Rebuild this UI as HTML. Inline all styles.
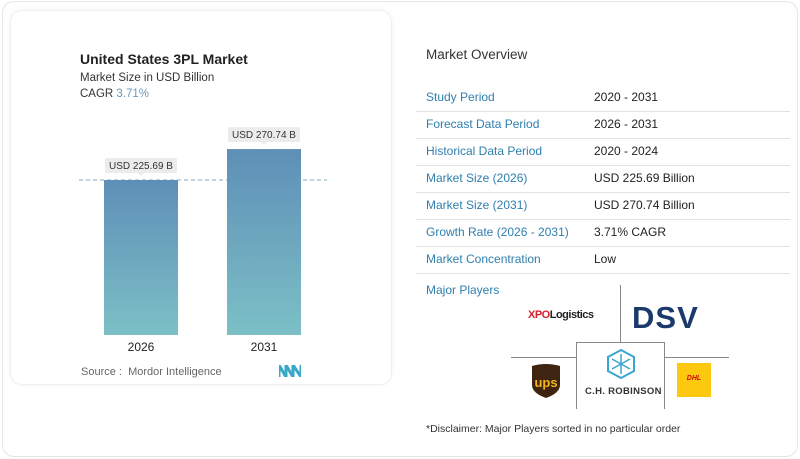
<!DOCTYPE html>
<html><head><meta charset="utf-8"><style>
*{margin:0;padding:0;box-sizing:border-box}
body{width:800px;height:459px;background:#fff;font-family:"Liberation Sans",sans-serif;position:relative;overflow:hidden}
.abs{position:absolute}
.outer{left:2px;top:1px;width:796px;height:456px;border:1px solid #e6e6e6;border-radius:12px}
.card{left:10px;top:10px;width:382px;height:375px;border:1px solid #f0f0f0;border-radius:12px;box-shadow:0 0 6px rgba(0,0,0,0.05)}
.lbl{left:426px;color:#2f7fae;font-size:12px}
.val{left:594px;color:#222;font-size:12px}
.sep{left:416px;width:374px;height:1px;background:#e2e2e2}
</style></head><body>
<div class="abs outer"></div>
<div class="abs card"></div>
<div class="abs" style="left:80px;top:51px;font-size:14px;font-weight:bold;color:#222">United States 3PL Market</div>
<div class="abs" style="left:80px;top:72px;font-size:11.5px;color:#333">Market Size in USD Billion</div>
<div class="abs" style="left:80px;top:88px;font-size:11.5px;color:#333">CAGR <span style="color:#6b9bbd">3.71%</span></div>
<svg class="abs" style="left:0;top:0" width="400" height="400" id="chart">
<defs><linearGradient id="g" x1="0" y1="0" x2="0" y2="1"><stop offset="0" stop-color="#5e8fb7"/><stop offset="1" stop-color="#7cc0c6"/></linearGradient></defs>
</svg>
<div class="abs" style="left:81px;top:366px;font-size:11px;color:#666">Source :&nbsp; Mordor Intelligence</div>
<svg class="abs" style="left:279px;top:365px" width="22" height="12"><path d="M0 12V0L7 12V0L14 12V0L22 12V0" fill="none" stroke="#3aa9c8" stroke-width="3"/></svg>

<div class="abs" style="left:426px;top:47px;font-size:13.5px;color:#333">Market Overview</div>
<div id="table"></div>
<div class="abs" style="left:426px;top:283px;font-size:12px;color:#2f7fae">Major Players</div>
<div class="abs" style="left:620px;top:285px;width:1px;height:57px;background:#888"></div>
<div class="abs" style="left:511px;top:357px;width:65px;height:1px;background:#888"></div>
<div class="abs" style="left:664px;top:357px;width:65px;height:1px;background:#888"></div>
<div class="abs" style="left:576px;top:342px;width:89px;height:67px;border:1px solid #888;border-bottom:none;background:#fff"></div>
<div class="abs" style="left:528px;top:309px;font-size:11px;font-weight:bold;letter-spacing:-0.5px"><span style="color:#d4202a">XPO</span><span style="color:#222">Logistics</span></div>
<div class="abs" style="left:632px;top:300px;font-size:31px;font-weight:900;color:#1b3a6b;letter-spacing:1px">DSV</div>
<svg class="abs" style="left:531px;top:363px" width="30" height="35"><path d="M1 3Q15 -1 29 3V22Q29 30 15 35Q1 30 1 22Z" fill="#3d2511"/><text x="15" y="24" font-size="13" font-weight="bold" fill="#f6b51a" text-anchor="middle" font-family="Liberation Sans">ups</text></svg>
<svg class="abs" style="left:605px;top:348px" width="32" height="32"><path d="M16 2L29 9V23L16 30L3 23V9Z" fill="none" stroke="#39a6d4" stroke-width="2"/><path d="M16 6V26M7 11L25 21M25 11L7 21" stroke="#39a6d4" stroke-width="1.5"/></svg>
<div class="abs" style="left:585px;top:386px;font-size:9.5px;font-weight:bold;color:#333;letter-spacing:0.3px">C.H. ROBINSON</div>
<div class="abs" style="left:677px;top:363px;width:34px;height:34px;background:#fcc90e"><div style="font-size:7px;color:#d40511;font-weight:bold;font-style:italic;text-align:center;margin-top:12px">DHL</div></div>
<div class="abs" style="left:426px;top:423px;font-size:10.5px;color:#333">*Disclaimer: Major Players sorted in no particular order</div>

<script>
const years=["2026","2031"];
const values=[225.69,270.74];
const valueLabels=["USD 225.69 B","USD 270.74 B"];
const svg=document.getElementById('chart');
const NS='http://www.w3.org/2000/svg';
const baseY=335, scale=155/225.69;
const yS=v=>baseY-v*scale;
const xS=i=>104+i*123;
const bw=74;
function mk(t,a){const e=document.createElementNS(NS,t);for(const k in a)e.setAttribute(k,a[k]);svg.appendChild(e);return e;}
const dl=mk('line',{x1:79,x2:327,y1:yS(values[0]),y2:yS(values[0]),stroke:'#8aa8b8','stroke-dasharray':'4 3','stroke-width':1});


years.forEach((yr,i)=>{
  const x=xS(i),y=yS(values[i]);
  const r=mk('rect',{x:x,y:y,width:bw,height:baseY-y,fill:'url(#g)'});
  
  
  const p=mk('rect',{x:x+1,y:y-22,width:72,height:15,rx:2,fill:'#ececec'});
  
  
  mk('path',{d:`M${x+34} ${y-7}L${x+37} ${y-4}L${x+40} ${y-7}Z`,fill:'#ececec'});
  const t=mk('text',{x:x+37,y:y-11,'font-size':10,'text-anchor':'middle',fill:'#333','font-family':'Liberation Sans'});
  t.textContent=valueLabels[i];
  
  
  const xl=mk('text',{x:x+37,y:351,'font-size':12,'text-anchor':'middle',fill:'#222','font-family':'Liberation Sans'});
  xl.textContent=yr;
  
  
});
const rows=[["Study Period","2020 - 2031"],["Forecast Data Period","2026 - 2031"],["Historical Data Period","2020 - 2024"],["Market Size (2026)","USD 225.69 Billion"],["Market Size (2031)","USD 270.74 Billion"],["Growth Rate (2026 - 2031)","3.71% CAGR"],["Market Concentration","Low"]];
let h='';
rows.forEach((r,i)=>{const ty=90+i*27;
h+=`<div class="abs lbl" style="top:${ty}px">${r[0]}</div><div class="abs val" style="top:${ty}px">${r[1]}</div><div class="abs sep" style="top:${111+i*27}px"></div>`;});
document.getElementById('table').innerHTML=h;
</script>
</body></html>
